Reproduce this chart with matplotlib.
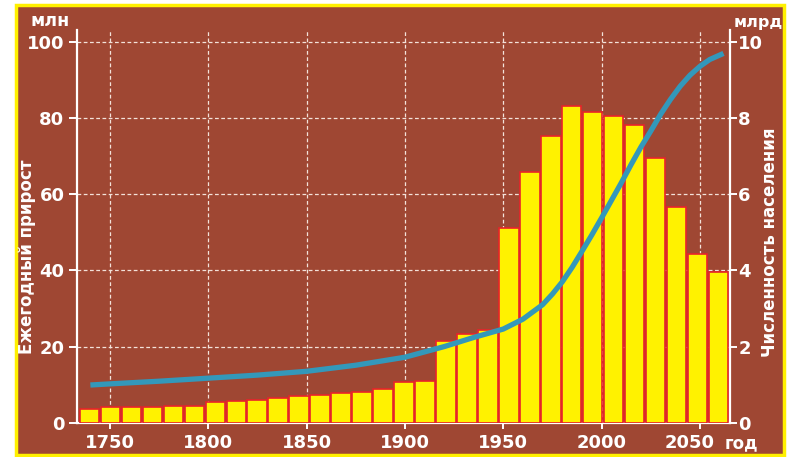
import matplotlib.pyplot as plt
import matplotlib.transforms as mtransforms
from matplotlib.patches import Rectangle

# Annual growth, mln (31 bars, left to right)
growth = [3.6, 4.0, 4.2, 4.2, 4.4, 4.4, 5.4, 5.7, 6.0, 6.4, 6.9,
          7.4, 7.9, 8.1, 8.9, 10.6, 11.0, 21.5, 23.2, 24.4, 51.1,
          65.9, 75.2, 83.2, 81.5, 80.5, 78.2, 69.6, 56.6, 44.3, 39.5]

# World population, bln
pop_years = [1740, 1750, 1775, 1800, 1825, 1850, 1875, 1900, 1920, 1935,
             1950, 1960, 1970, 1975, 1980, 1985, 1990, 1995, 2000, 2005,
             2010, 2015, 2020, 2025, 2030, 2035, 2040, 2045, 2050, 2055, 2062]
population = [0.99, 1.02, 1.09, 1.17, 1.25, 1.35, 1.51, 1.72, 2.0, 2.24,
              2.46, 2.72, 3.10, 3.38, 3.70, 4.08, 4.50, 4.93, 5.38, 5.84,
              6.30, 6.78, 7.24, 7.66, 8.10, 8.49, 8.84, 9.13, 9.36, 9.54, 9.70]

year_ticks = [1750, 1800, 1850, 1900, 1950, 2000, 2050]
left_ticks = [0, 20, 40, 60, 80, 100]
right_ticks = [0, 2, 4, 6, 8, 10]

brown = '#9f4733'
yellow = '#fff200'
white = '#ffffff'
font = 'DejaVu Sans'

W, H = 793, 457
fig = plt.figure(figsize=(W / 100, H / 100), dpi=100)
fig.patch.set_facecolor('white')
fig.patches.append(Rectangle((16 / W, 1 - 455 / H), 768 / W, 450 / H,
                             transform=fig.transFigure, facecolor=brown,
                             edgecolor='#fff000', linewidth=2.5, zorder=-10))

ax = fig.add_axes([77 / W, 1 - 422.7 / H, 653 / W, 392.7 / H])
ax.set_facecolor('none')
ax.set_xlim(1733.2, 2065.3)
ax.set_ylim(0, 103.15)
ax.set_xticks(year_ticks)
ax.set_yticks(left_ticks)
ax.grid(True, color='#f3e2da', linestyle=(0, (3, 2)), linewidth=0.9)
for s in ['top', 'right']:
    ax.spines[s].set_visible(False)
for s in ['left', 'bottom']:
    ax.spines[s].set_color(white)
    ax.spines[s].set_linewidth(1.6)
ax.tick_params(axis='x', colors=white, length=4, width=1.4, pad=4)
ax.tick_params(axis='y', colors=white, length=6, width=1.4, pad=3)
for lab in ax.get_xticklabels() + ax.get_yticklabels():
    lab.set_fontfamily(font)
    lab.set_fontweight('bold')
    lab.set_fontsize(13)

# last year label sits a bit left to leave room for "год"
last = ax.get_xticklabels()[-1]
last.set_transform(last.get_transform() +
                   mtransforms.ScaledTranslation(-10 / 100, 0, fig.dpi_scale_trans))

# bars on their own index axis
axb = ax.twiny()
axb.set_xlim(-0.595, 30.548)
axb.bar(range(len(growth)), growth, width=0.93, color=yellow,
        edgecolor='#e8232a', linewidth=1.2)
axb.set_xticks([])
for s in axb.spines.values():
    s.set_visible(False)

# population line, right axis
axp = ax.twinx()
axp.set_ylim(0, 10.315)
axp.plot(pop_years, population, color='#3398ba', linewidth=3.8,
         solid_capstyle='butt')
axp.set_yticks(right_ticks)
for s in ['top', 'left', 'bottom']:
    axp.spines[s].set_visible(False)
axp.spines['right'].set_color(white)
axp.spines['right'].set_linewidth(1.6)
axp.tick_params(axis='y', colors=white, length=5, width=1.4, pad=1)
for lab in axp.get_yticklabels():
    lab.set_fontfamily(font)
    lab.set_fontweight('bold')
    lab.set_fontsize(13)

txt = dict(color=white, fontfamily=font, fontweight='bold')
fig.text(50 / W, 1 - 21 / H, 'млн', ha='center', va='center', fontsize=12.5, **txt)
fig.text(758 / W, 1 - 23 / H, 'млрд', ha='center', va='center', fontsize=11.5, **txt)
fig.text(741 / W, 1 - 443 / H, 'год', ha='center', va='center', fontsize=12, **txt)
fig.text(27 / W, 1 - 257 / H, 'Ежегодный прирост', rotation=90,
         ha='center', va='center', fontsize=12, **txt)
fig.text(770 / W, 1 - 242 / H, 'Численность населения', rotation=90,
         ha='center', va='center', fontsize=12, **txt)

fig.savefig('out.png', dpi=100)
